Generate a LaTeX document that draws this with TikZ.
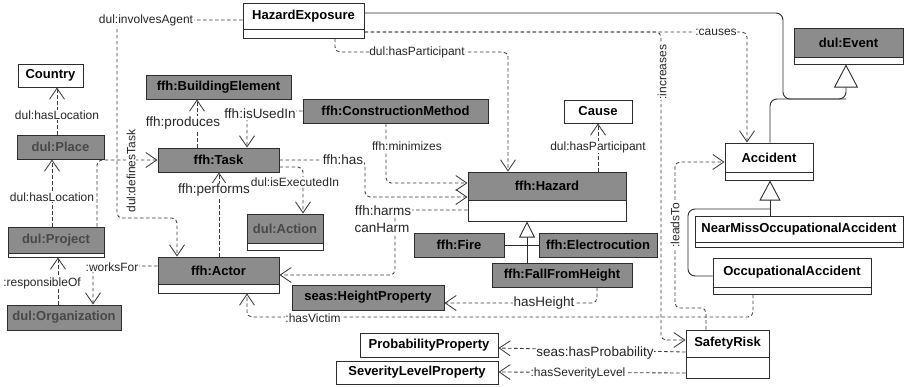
\documentclass[tikz,border=0pt]{standalone}
\usepackage{fontspec}
\setmainfont{Liberation Sans}
\usetikzlibrary{arrows.meta}
\definecolor{boxgray}{RGB}{140,140,140}
\definecolor{dulgray}{RGB}{72,72,72}
\definecolor{edgec}{RGB}{45,45,45}
\definecolor{connc}{RGB}{60,60,60}
\newcommand\umlbox[7]{\node[cls,#6,minimum width={(#4-#2)*1pt},minimum height={(#5-#3)*1pt}] (#1) at ({(#2+#4)/2},{(#3+#5)/2}) {#7};}
\newcommand\umlcomp[5]{\node[comp,minimum width={(#4-#2)*1pt},minimum height={(#5-#3)*1pt}] (#1) at ({(#2+#4)/2},{(#3+#5)/2}) {};}
\begin{document}
\begin{tikzpicture}[x=1pt,y=-1pt,
 cls/.style={draw=edgec, line width=1pt, inner sep=0pt, font=\fontsize{13}{13}\selectfont\bfseries, text=black},
 grayfill/.style={fill=boxgray},
 whitefill/.style={fill=white},
 dultext/.style={text=dulgray},
 comp/.style={draw=edgec, line width=1pt, fill=white, inner sep=0pt},
 assoc/.style={draw=connc, line width=0.85pt, dash pattern=on 3.5pt off 2.5pt, rounded corners=5pt, -{Straight Barb[length=11pt,width=15pt]}},
 gen/.style={draw=edgec, line width=0.9pt, rounded corners=7pt},
 lbl/.style={fill=white, inner sep=0.8pt, text=black!85, font=\fontsize{12}{12}\selectfont},
 lblb/.style={lbl, font=\fontsize{13.5}{13.5}\selectfont},
]
\useasboundingbox[fill=white] (0,0) rectangle (906,386);

% classes
\umlbox{he}{243}{3}{364}{29}{whitefill}{HazardExposure}
\umlcomp{heb}{243}{29}{364}{38}
\umlbox{country}{18}{64}{83}{87}{whitefill}{Country}
\umlbox{be}{146}{75}{291}{99}{grayfill}{ffh:BuildingElement}
\umlbox{place}{17}{135}{104}{159}{grayfill,dultext}{dul:Place}
\umlbox{project}{8}{227}{104}{253}{grayfill,dultext}{dul:Project}
\umlcomp{projectb}{8}{253}{104}{257}
\umlbox{org}{7}{305}{121}{330}{grayfill,dultext}{dul:Organization}
\umlbox{task}{158}{148}{279}{172}{grayfill}{ffh:Task}
\umlbox{cm}{303}{99}{488}{123}{grayfill}{ffh:ConstructionMethod}
\umlbox{cause}{564}{100}{632}{123}{whitefill}{Cause}
\umlbox{event}{794}{28}{903}{57}{grayfill}{dul:Event}
\umlcomp{eventb}{794}{57}{903}{64}
\umlbox{acc}{725}{143}{813}{172}{whitefill}{Accident}
\umlcomp{accb}{725}{172}{813}{180}
\umlbox{nmoa}{695}{216}{903}{242}{whitefill}{NearMissOccupationalAccident}
\umlcomp{nmoab}{695}{242}{903}{247}
\umlbox{oa}{713}{258}{871}{287}{whitefill}{OccupationalAccident}
\umlcomp{oab}{713}{287}{871}{294}
\umlbox{sr}{686}{330}{769}{357}{whitefill}{SafetyRisk}
\umlcomp{srb}{686}{357}{769}{378}
\umlbox{hz}{468}{172}{626}{200}{grayfill}{ffh:Hazard}
\umlcomp{hzb}{468}{200}{626}{221}
\umlbox{fire}{414}{233}{504}{257}{grayfill}{ffh:Fire}
\umlbox{elec}{539}{233}{657}{257}{grayfill}{ffh:Electrocution}
\umlbox{ffh}{492}{263}{632}{287}{grayfill}{ffh:FallFromHeight}
\umlbox{actor}{158}{257}{279}{284}{grayfill}{ffh:Actor}
\umlcomp{actorb}{158}{284}{279}{293}
\umlbox{hp}{292}{285}{444}{310}{grayfill}{seas:HeightProperty}
\umlbox{action}{247}{214}{323}{243}{grayfill,dultext}{dul:Action}
\umlcomp{actionb}{247}{243}{323}{250}
\umlbox{prob}{360}{333}{498}{357}{whitefill}{ProbabilityProperty}
\umlbox{sev}{336}{361}{498}{384}{whitefill}{SeverityLevelProperty}

% generalizations
\coordinate (hzj) at (527,245);
\coordinate (accj) at (770,209);
\coordinate (evj) at (846,99);
\draw[gen, -{Triangle[length=16pt,width=16pt,fill=white]}] (ffh.north -| 527,0) -- (hzb.south -| 527,0);
\draw[gen] (fire.east |- hzj) -- (hzj);
\draw[gen] (elec.west |- hzj) -- (hzj);
\draw[gen, -{Triangle[length=20pt,width=21pt,fill=white]}] (nmoa.north -| 770,0) -- (accb.south -| 770,0);
\draw[gen] (oa.west |- 0,276) -- (688,276) -- (688,209) -- (accj);
\draw[gen, -{Triangle[length=23pt,width=24pt,fill=white]}] (he.east |- 0,13) -- (783,13) -- (783,99) -- (evj) -- (eventb.south -| 846,0);
\draw[gen] (acc.north -| 770,0) -- (770,99) -- (evj);

% associations
\draw[assoc] (he.west |- 0,20) -- (117,20) -- (117,218) -- (177,218) -- (actor.north -| 177,0);
\draw[assoc] (project.north -| 97,0) -- (97,160) -- (task.west |- 0,160);
\draw[assoc] (project.north -| 52,0) -- (place.south -| 52,0);
\draw[assoc] (place.north -| 57,0) -- (country.south -| 57,0);
\draw[assoc] (org.north -| 58,0) -- (projectb.south -| 58,0);
\draw[assoc] (actor.west |- 0,266) -- (93,266) -- (org.north -| 93,0);
\draw[assoc] (actor.north -| 219,0) -- (task.south -| 219,0);
\draw[assoc] (task.north -| 197,0) -- (be.south -| 197,0);
\draw[assoc] (cm.west |- 0,111) -- (247,111) -- (task.north -| 247,0);
\draw[assoc] (task.east |- 0,160) -- (365,160) -- (365,197) -- (hz.west |- 0,197);
\draw[assoc] (cm.south -| 386,0) -- (386,183) -- (hz.west |- 0,183);
\draw[assoc] (task.east |- 0,167) -- (303,167) -- (action.north -| 303,0);
\draw[assoc] (hzb.west |- 0,210) -- (395,210) -- (395,275) -- (actor.east |- 0,275);
\draw[assoc] (ffh.south -| 597,0) -- (597,303) -- (hp.east |- 0,303);
\draw[assoc] (oab.south -| 753,0) -- (753,317) -- (247,317) -- (actorb.south -| 247,0);
\draw[assoc] (heb.south -| 335,0) -- (335,52) -- (508,52) -- (hz.north -| 508,0);
\draw[assoc] (hz.north -| 598,0) -- (cause.south -| 598,0);
\draw[assoc] (heb.east |- 0,32) -- (747,32) -- (acc.north -| 747,0);
\draw[assoc] (heb.east |- 0,32) -- (661,32) -- (661,340) -- (sr.west |- 0,340);
\draw[assoc] (sr.north -| 706,0) -- (706,308) -- (675,308) -- (675,162) -- (acc.west |- 0,162);
\draw[assoc] (sr.west |- 0,352) -- (prob.east |- 0,348);
\draw[assoc] (srb.west |- 0,373) -- (sev.east |- 0,372);

% labels
\node[lbl] (l1) at (146,20) {dul:involvesAgent};
\node[lbl, rotate=90] (l2) at (131,171) {dul:definesTask};
\node[lbl] (l3) at (52,197) {dul:hasLocation};
\node[lbl] (l4) at (57,115) {dul:hasLocation};
\node[lbl] (l5) at (42,283) {:responsibleOf};
\node[lbl] (l6) at (112,267) {:worksFor};
\node[lblb] (l7) at (214,190) {ffh:performs};
\node[lblb] (l8) at (183,123) {ffh:produces};
\node[lblb] (l9) at (260,114) {ffh:isUsedIn};
\node[lblb] (l10) at (343,160) {ffh:has};
\node[lbl] (l11) at (407,146) {ffh:minimizes};
\node[lbl] (l12) at (295,182) {dul:isExecutedIn};
\node[lblb] (l13) at (383,211) {ffh:harms};
\node[lblb] (l14) at (382,228) {canHarm};
\node[lblb] (l15) at (544,303) {hasHeight};
\node[lbl] (l16) at (313,318) {:hasVictim};
\node[lbl] (l17) at (417,52) {dul:hasParticipant};
\node[lbl] (l18) at (598,147) {dul:hasParticipant};
\node[lbl] (l19) at (716,32) {:causes};
\node[lbl, rotate=90] (l20) at (662,72) {:increases};
\node[lbl, rotate=90] (l21) at (675,225) {:leadsTo};
\node[lblb] (l22) at (595,353) {seas:hasProbability};
\node[lbl] (l23) at (578,373) {:hasSeverityLevel};
\end{tikzpicture}
\end{document}
